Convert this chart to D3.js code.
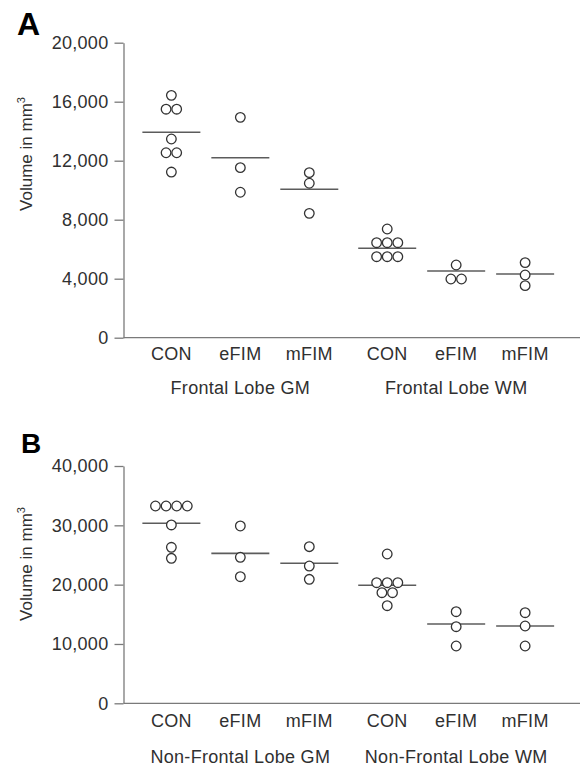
<!DOCTYPE html>
<html>
<head>
<meta charset="utf-8">
<script src="https://cdn.jsdelivr.net/npm/d3@7"></script>
<style>
  html, body { margin: 0; padding: 0; background: #ffffff; }
  svg { display: block; }
</style>
</head>
<body>
<svg id="chart" width="581" height="771"></svg>
<script>
// ---------- data ----------
const categories = ["CON", "eFIM", "mFIM"];
const groupsA = ["Frontal Lobe GM", "Frontal Lobe WM"];
const groupsB = ["Non-Frontal Lobe GM", "Non-Frontal Lobe WM"];
const ticksA = [0, 4000, 8000, 12000, 16000, 20000];
const ticksB = [0, 10000, 20000, 30000, 40000];

// Panel A: Frontal lobe volumes (mm^3)
const A_GM_CON  = [16430, 15490, 15490, 13470, 12540, 12540, 11230];
const A_GM_eFIM = [14940, 11530, 9860];
const A_GM_mFIM = [11190, 10470, 8430];
const A_WM_CON  = [7370, 6440, 6440, 6440, 5490, 5490, 5490];
const A_WM_eFIM = [4930, 3980, 3980];
const A_WM_mFIM = [5090, 4250, 3530];
const A_means   = [13925, 12200, 10060, 6060, 4520, 4320];

// Panel B: Non-frontal lobe volumes (mm^3)
const B_GM_CON  = [33260, 33260, 33260, 33260, 30060, 26300, 24440];
const B_GM_eFIM = [29890, 24610, 21340];
const B_GM_mFIM = [26400, 23140, 20900];
const B_WM_CON  = [25170, 20330, 20330, 20330, 18640, 18640, 16450];
const B_WM_eFIM = [15440, 12910, 9660];
const B_WM_mFIM = [15270, 13030, 9660];
const B_means   = [30340, 25280, 23600, 19890, 13370, 13030];

// ---------- drawing ----------
const svg = d3.select("#chart");
const FONT = "'Liberation Sans', Arial, Helvetica, sans-serif";
const axisColor = "#7a7a7a";
const textColor = "#303030";
const plotLeft = 123.5, plotRight = 580;

function drawPanel(cfg) {
  const g = svg.append("g");
  const y = d3.scaleLinear().domain([0, cfg.yMax]).range([cfg.yBottom, cfg.yTop]);
  const x0 = d3.scaleBand().domain(cfg.groups).range([plotLeft, plotRight])
    .paddingInner(0.361).paddingOuter(0.238).align(0.466);
  const x1 = d3.scalePoint().domain(categories).range([0, x0.bandwidth()]);

  // panel letter
  g.append("text").attr("x", cfg.letterX).attr("y", cfg.letterY)
    .attr("font-family", FONT).attr("font-weight", "bold")
    .attr("font-size", cfg.letterSize).attr("fill", "#000").text(cfg.letter);

  // y axis
  const yAxis = d3.axisLeft(y).tickValues(cfg.ticks).tickFormat(d3.format(","))
    .tickSize(9).tickSizeOuter(0).tickPadding(6);
  const ya = g.append("g").attr("transform", `translate(${plotLeft},0)`).call(yAxis);
  ya.select(".domain").attr("stroke", axisColor).attr("stroke-width", 1.3);
  ya.selectAll(".tick line").attr("stroke", axisColor).attr("stroke-width", 1.3);
  ya.selectAll(".tick text").attr("font-family", FONT).attr("font-size", 18)
    .attr("letter-spacing", "0.3px").attr("fill", textColor);

  // x axis baseline
  g.append("line").attr("x1", plotLeft).attr("x2", plotRight)
    .attr("y1", y(0)).attr("y2", y(0))
    .attr("stroke", axisColor).attr("stroke-width", 1.3);

  // y label
  const yl = g.append("text")
    .attr("transform", `translate(${cfg.yLabelX},${cfg.yLabelY}) rotate(-90)`)
    .attr("text-anchor", "middle").attr("font-family", FONT).attr("font-size", 17)
    .attr("fill", textColor);
  yl.append("tspan").text("Volume in mm");
  yl.append("tspan").attr("font-size", 11).attr("dy", -7).text("3");

  // data per group/category
  cfg.series.forEach((vals, i) => {
    const grp = cfg.groups[Math.floor(i / categories.length)];
    const cat = categories[i % categories.length];
    const cx = x0(grp) + x1(cat);

    // category label
    g.append("text").attr("x", cx).attr("y", cfg.tickLabelY)
      .attr("text-anchor", "middle").attr("font-family", FONT).attr("font-size", 18)
      .attr("letter-spacing", "0.3px").attr("fill", textColor).text(cat);

    // mean line
    g.append("line").attr("x1", cx - 29).attr("x2", cx + 29)
      .attr("y1", y(cfg.means[i])).attr("y2", y(cfg.means[i]))
      .attr("stroke", "#5c5c5c").attr("stroke-width", 1.6);

    // dot rows: equal values placed side by side
    const rows = d3.group(vals, v => v);
    const pts = [];
    rows.forEach((arr, v) => {
      arr.forEach((_, k) => pts.push({ v, off: (k - (arr.length - 1) / 2) * 10.6 }));
    });
    g.selectAll(null).data(pts).join("circle")
      .attr("cx", d => cx + d.off).attr("cy", d => y(d.v)).attr("r", 4.8)
      .attr("fill", "#fff").attr("stroke", "#333").attr("stroke-width", 1.3);
  });

  // group labels
  cfg.groups.forEach(grp => {
    g.append("text").attr("x", x0(grp) + x0.bandwidth() / 2).attr("y", cfg.groupLabelY)
      .attr("text-anchor", "middle").attr("font-family", FONT).attr("font-size", 18)
      .attr("letter-spacing", "0.3px").attr("fill", textColor).text(grp);
  });
}

drawPanel({
  letter: "A", letterX: 17, letterY: 35, letterSize: 32,
  groups: groupsA, ticks: ticksA, yMax: 20000, yTop: 42.7, yBottom: 337.7,
  series: [A_GM_CON, A_GM_eFIM, A_GM_mFIM, A_WM_CON, A_WM_eFIM, A_WM_mFIM],
  means: A_means, yLabelX: 32, yLabelY: 154, tickLabelY: 359.5, groupLabelY: 394
});

drawPanel({
  letter: "B", letterX: 21, letterY: 453, letterSize: 28,
  groups: groupsB, ticks: ticksB, yMax: 40000, yTop: 466, yBottom: 703.3,
  series: [B_GM_CON, B_GM_eFIM, B_GM_mFIM, B_WM_CON, B_WM_eFIM, B_WM_mFIM],
  means: B_means, yLabelX: 32, yLabelY: 564, tickLabelY: 727, groupLabelY: 763
});
</script>
</body>
</html>
